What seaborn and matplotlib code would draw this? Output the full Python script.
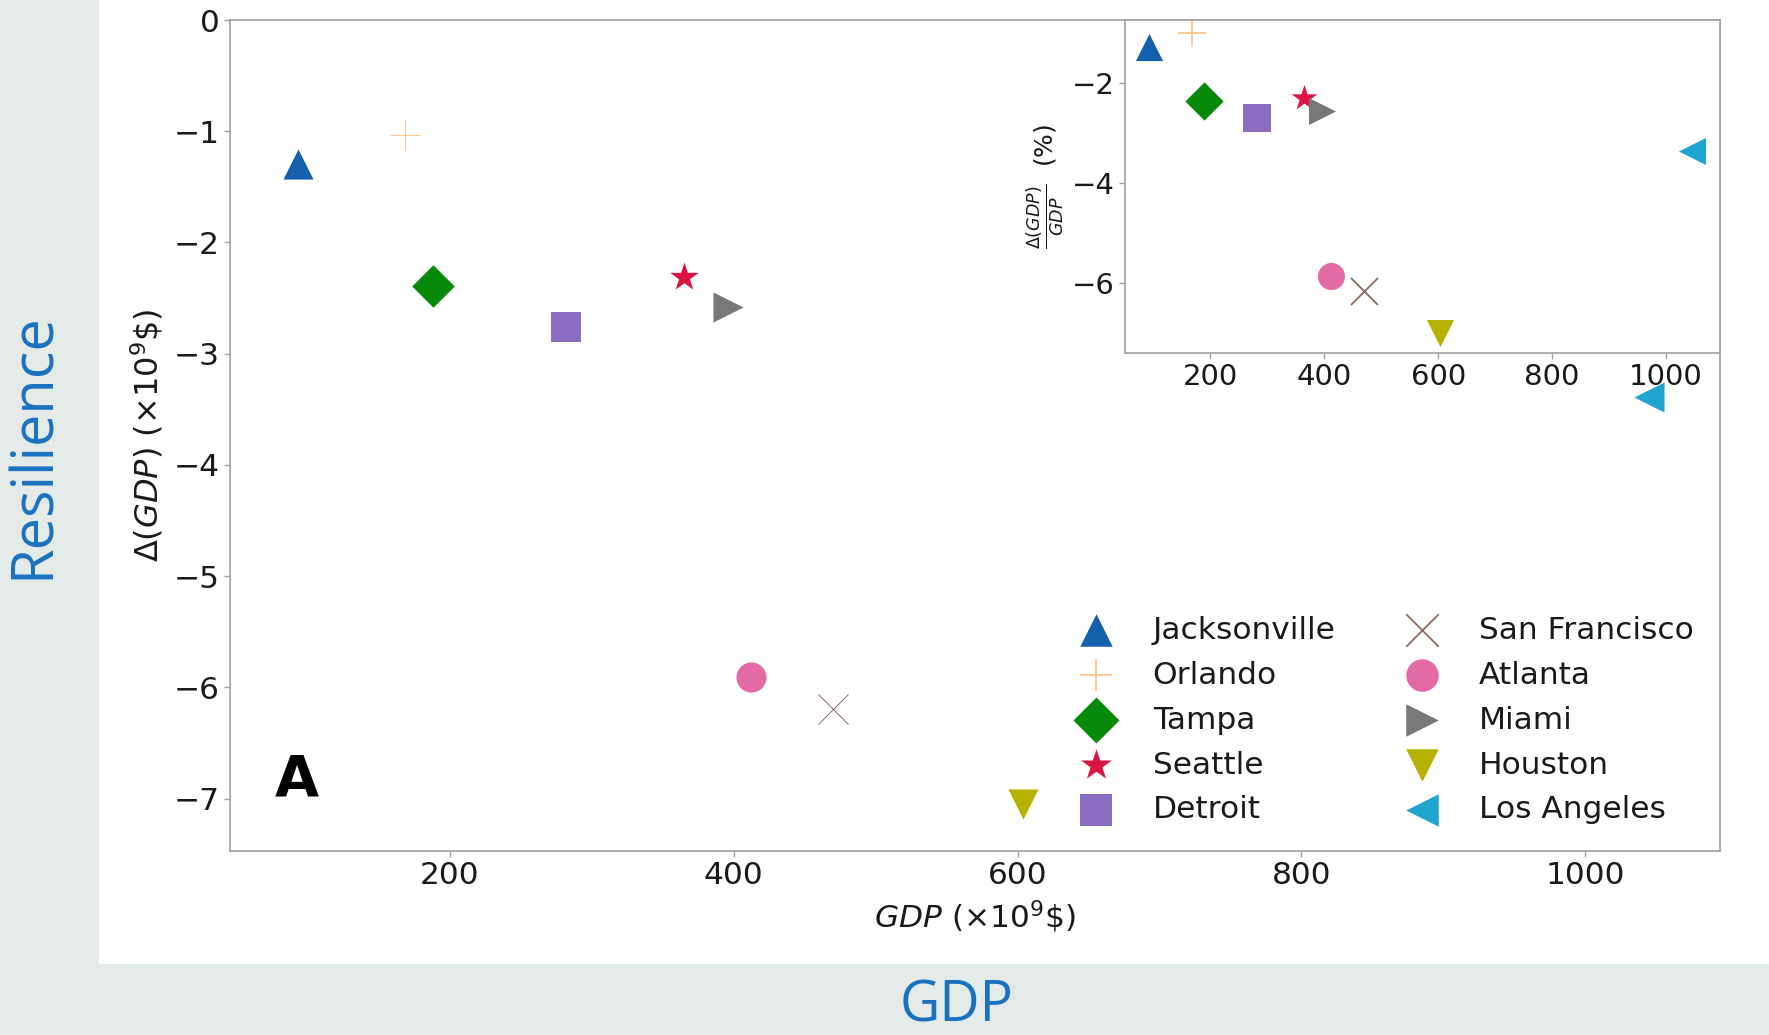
import matplotlib
matplotlib.use("Agg")
import matplotlib.pyplot as plt
from matplotlib.patches import Rectangle
import seaborn as sns

# Cities, GDP (x10^9 $) and loss figures
cities = ["Jacksonville", "Orlando", "Tampa", "Seattle", "Detroit",
          "San Francisco", "Atlanta", "Miami", "Houston", "Los Angeles"]
gdp = [93, 168, 188, 365, 282, 470, 412, 396, 604, 1045]
delta_gdp = [-1.29, -1.03, -2.39, -2.31, -2.76, -6.19, -5.91, -2.58, -7.05, -3.39]
delta_pct = [-1.28, -1.00, -2.36, -2.29, -2.70, -6.16, -5.86, -2.56, -6.99, -3.36]

markers = ["^", "+", "D", "*", "s", "x", "o", ">", "v", "<"]
colors = ["#1560ad", "#ffc48e", "#078a0a", "#dc1443", "#8a6cc0",
          "#8c6a60", "#e46aa5", "#787878", "#b5b300", "#1ea5d0"]

main_xticks = [200, 400, 600, 800, 1000]
main_yticks = [0, -1, -2, -3, -4, -5, -6, -7]
inset_yticks = [-2, -4, -6]

sns.set_theme(style="ticks")
plt.rcParams["font.family"] = ["DejaVu Sans"]
plt.rcParams["mathtext.fontset"] = "dejavusans"

W, H = 1769, 1035
fig = plt.figure(figsize=(W / 100, H / 100), dpi=100)
fig.patch.set_facecolor("#e4eae8")
fig.patches.append(Rectangle((99 / W, 1 - 964 / H), 1 - 99 / W, 964 / H,
                             transform=fig.transFigure, facecolor="white",
                             edgecolor="none", zorder=-5))

ax = fig.add_axes([230 / W, 1 - 851 / H, (1720 - 230) / W, (851 - 20) / H])
ax_in = fig.add_axes([1125 / W, 1 - 353 / H, (1720 - 1125) / W, (353 - 20) / H])
ax_in.set_zorder(2)

spine_color = "#a0a0a0"
text_color = "#1a1a1a"


def draw(axis, yvals, size, line_w, with_labels):
    for city, x, y, m, c in zip(cities, gdp, yvals, markers, colors):
        kw = dict(x=[x], y=[y], marker=m, color=c, s=size, ax=axis)
        if m in ("+", "x"):
            kw["linewidth"] = line_w
        else:
            kw["linewidth"] = 0
            kw["edgecolor"] = c
        if with_labels:
            kw["label"] = city
        else:
            kw["legend"] = False
        sns.scatterplot(**kw)


draw(ax, delta_gdp, 470, 0.7, True)
draw(ax_in, delta_pct, 380, 1.3, False)

for a in (ax, ax_in):
    a.set_facecolor("white")
    for sp in a.spines.values():
        sp.set_visible(True)
        sp.set_color(spine_color)
        sp.set_linewidth(1.2)
    a.tick_params(length=4, width=1, color=spine_color, labelcolor=text_color)

# Main axes
ax.set_xlim(45, 1095)
ax.set_ylim(-7.47, 0)
ax.set_xticks(main_xticks)
ax.set_yticks(main_yticks)
ax.tick_params(labelsize=22.5)
ax.set_xlabel(r"$GDP$ (×10$^9$\$)", fontsize=22.5, color=text_color, labelpad=6)
ax.set_ylabel(r"$\Delta(GDP)$ (×10$^9$\$)", fontsize=23, color=text_color, labelpad=6)
ax.text(0.045, 0.065, "A", transform=ax.transAxes, fontsize=41,
        fontweight="bold", ha="center", va="baseline", color="black")

handles, labels = ax.get_legend_handles_labels()
leg = ax.legend(handles, labels, ncol=2, loc="lower right",
                bbox_to_anchor=(1.0, 0.0), fontsize=22.5, markerscale=1.08,
                frameon=False, handletextpad=0.8, columnspacing=1.78,
                labelspacing=0.51, borderaxespad=0.45)
for t in leg.get_texts():
    t.set_color(text_color)
for h in leg.legend_handles:
    if h.get_label() in ("Orlando", "San Francisco"):
        h.set_linewidth(1.3)

# Inset axes
ax_in.set_xlim(50, 1095)
ax_in.set_ylim(-7.4, -0.73)
ax_in.set_xticks(main_xticks)
ax_in.set_yticks(inset_yticks)
ax_in.tick_params(labelsize=21)
ax_in.set_ylabel(r"$\frac{\Delta(GDP)}{GDP}$  (%)", fontsize=18,
                 color=text_color, labelpad=4)
ax_in.set_xlabel("")

# Slide captions
caption_color = "#1a72bf"
fig.text(34 / W, 1 - 446 / H, "Resilience", rotation=90, ha="center",
         va="center", fontsize=41.5, color=caption_color, family="Open Sans")
fig.text(957 / W, 1 - 1007 / H, "GDP", ha="center", va="center",
         fontsize=40, color=caption_color, family="Open Sans")

fig.savefig("out.png", dpi=100, facecolor=fig.get_facecolor())
